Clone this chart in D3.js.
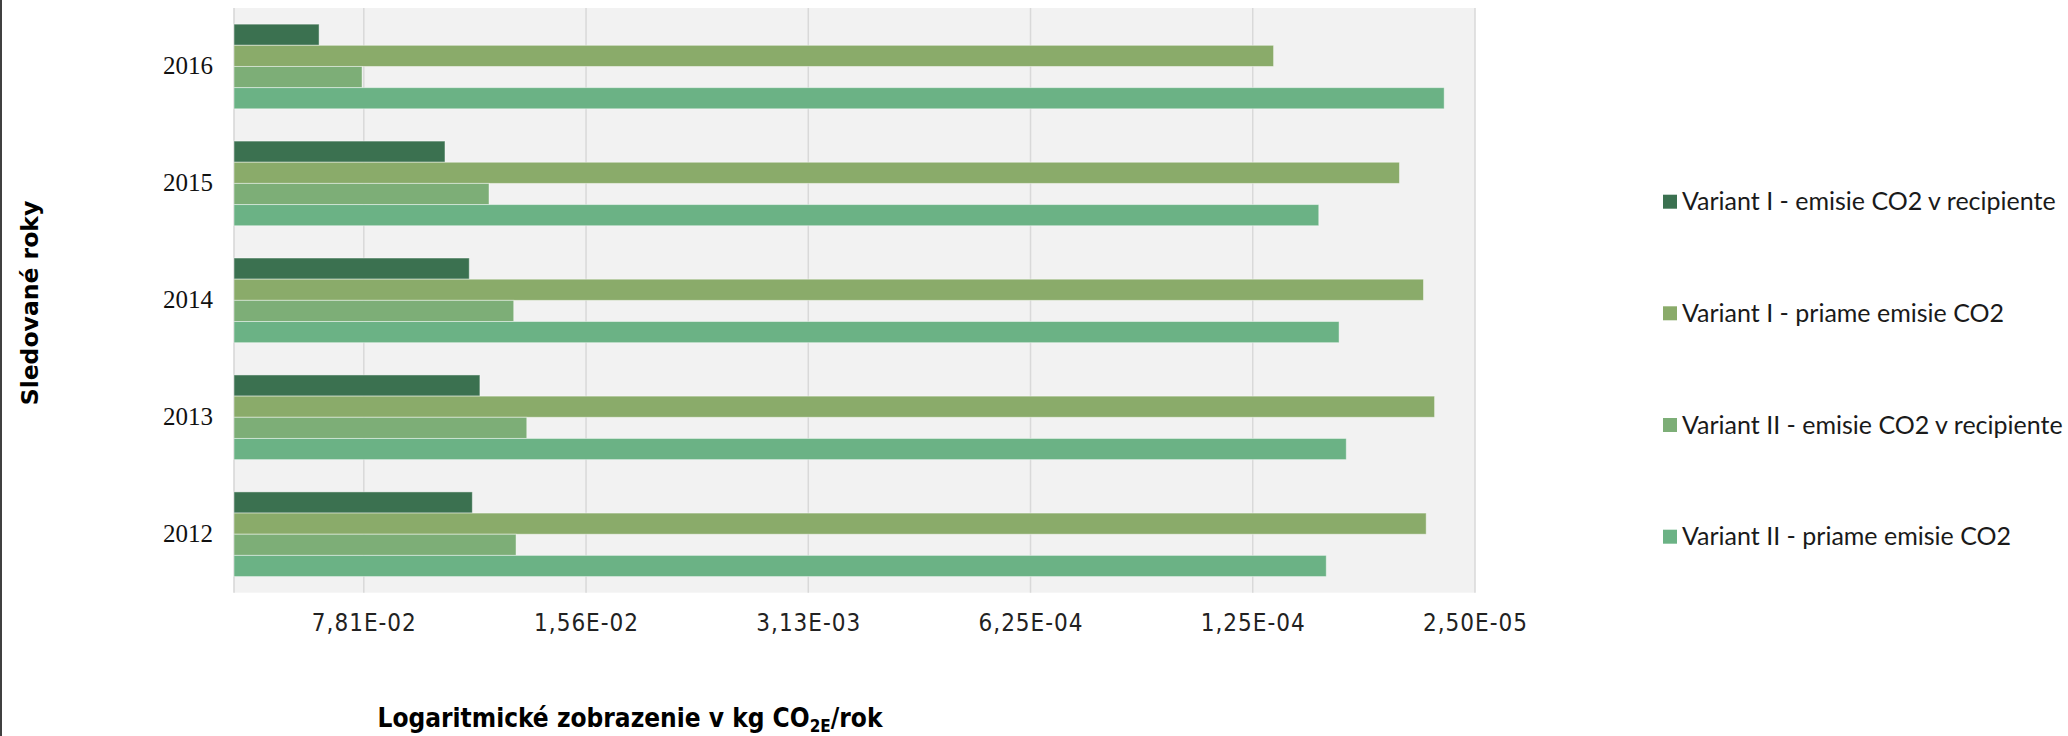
<!DOCTYPE html>
<html>
<head>
<meta charset="utf-8">
<script src="https://cdn.jsdelivr.net/npm/d3@7"></script>
<style>
  html, body { margin: 0; padding: 0; background: #ffffff; }
  svg { display: block; }
</style>
</head>
<body>
<svg id="chart" width="2068" height="736"></svg>
<script>
// Years shown on the category axis, top to bottom
const years = ["2016", "2015", "2014", "2013", "2012"];

// Series names (legend order = order inside each year group)
const seriesNames = [
  "Variant I - emisie CO2 v recipiente",
  "Variant I - priame emisie CO2",
  "Variant II - emisie CO2 v recipiente",
  "Variant II - priame emisie CO2"
];

// Emissions in kg CO2e per year, one value per year (2016 ... 2012)
const variant1Recipient = [0.108, 0.0434, 0.0364, 0.0337, 0.0356];
const variant1Direct    = [1.075e-4, 4.32e-5, 3.63e-5, 3.35e-5, 3.56e-5];
const variant2Recipient = [0.0791, 0.03155, 0.02638, 0.0240, 0.02594];
const variant2Direct    = [3.125e-5, 7.75e-5, 6.69e-5, 6.35e-5, 7.34e-5];

// Logarithmic axis (base 5), ticks and their labels
const axisMax = 0.2;
const axisMin = 2.5e-5;
const tickValues = [0.078125, 0.015625, 0.003125, 0.000625, 0.000125, 0.000025];
const tickLabels = ["7,81E-02", "1,56E-02", "3,13E-03", "6,25E-04", "1,25E-04", "2,50E-05"];

const seriesValues = [variant1Recipient, variant1Direct, variant2Recipient, variant2Direct];
const colors = ["#3b7150", "#8aab6a", "#7dae77", "#6bb285"];

const svg = d3.select("#chart");

const plot = { left: 234, right: 1475, top: 8, bottom: 592.7 };

// Reversed log scale: large values on the left, bars grow toward small values
const x = d3.scaleLog().base(5)
  .domain([axisMax, axisMin])
  .range([plot.left, plot.right]);

const y = d3.scaleBand()
  .domain(years)
  .range([plot.top, plot.bottom])
  .paddingInner(0.276)
  .paddingOuter(0.138);

const ySeries = d3.scaleBand()
  .domain(d3.range(seriesNames.length))
  .range([0, y.bandwidth()]);

// Plot background
svg.append("rect")
  .attr("x", plot.left).attr("y", plot.top)
  .attr("width", plot.right - plot.left)
  .attr("height", plot.bottom - plot.top)
  .attr("fill", "#f2f2f2");

// Vertical gridlines
svg.append("g")
  .selectAll("line")
  .data(tickValues)
  .join("line")
  .attr("x1", d => x(d)).attr("x2", d => x(d))
  .attr("y1", plot.top).attr("y2", plot.bottom)
  .attr("stroke", "#d9d9d9")
  .attr("stroke-width", 1.5);

// Category axis line on the left edge of the plot
svg.append("line")
  .attr("x1", plot.left).attr("x2", plot.left)
  .attr("y1", plot.top).attr("y2", plot.bottom)
  .attr("stroke", "#d6d6d6")
  .attr("stroke-width", 1.5);

// Bars
const rows = [];
years.forEach((yr, i) => {
  seriesValues.forEach((vals, s) => {
    rows.push({ year: yr, series: s, value: vals[i] });
  });
});

svg.append("g")
  .selectAll("rect")
  .data(rows)
  .join("rect")
  .attr("x", x(axisMax))
  .attr("y", d => y(d.year) + ySeries(d.series))
  .attr("width", d => x(d.value) - x(axisMax))
  .attr("height", ySeries.bandwidth())
  .attr("fill", d => colors[d.series])
  .attr("stroke", "rgba(255,255,255,0.45)")
  .attr("stroke-width", 1);

// Category labels (years)
const yAxis = svg.append("g")
  .attr("transform", `translate(${plot.left},0)`)
  .call(d3.axisLeft(y).tickSize(0).tickPadding(21));
yAxis.select(".domain").remove();
yAxis.selectAll("text")
  .attr("font-family", "'Liberation Serif', 'Times New Roman', serif")
  .attr("font-size", 25)
  .attr("fill", "#111111");

// Value axis labels
const xAxis = svg.append("g")
  .attr("transform", `translate(0,${plot.bottom})`)
  .call(d3.axisBottom(x)
    .tickValues(tickValues)
    .tickFormat((d, i) => tickLabels[i])
    .tickSize(0)
    .tickPadding(21));
xAxis.select(".domain").remove();
xAxis.selectAll("text")
  .attr("font-family", "'Liberation Sans Narrow', 'DejaVu Sans Condensed', 'Roboto', sans-serif")
  .attr("font-size", 24)
  .attr("letter-spacing", 1)
  .attr("fill", "#222222");

// Axis titles
const xTitle = svg.append("text")
  .attr("x", 630)
  .attr("y", 726.5)
  .attr("text-anchor", "middle")
  .attr("font-family", "'Liberation Sans Narrow', 'DejaVu Sans Condensed', sans-serif")
  .attr("font-weight", "bold")
  .attr("font-size", 26)
  .attr("fill", "#000000");
xTitle.append("tspan").text("Logaritmické zobrazenie v kg CO");
xTitle.append("tspan").attr("font-size", 17).attr("dy", 5).text("2E");
xTitle.append("tspan").attr("dy", -5).text("/rok");

svg.append("text")
  .attr("transform", "translate(38,303) rotate(-90)")
  .attr("text-anchor", "middle")
  .attr("font-family", "'DejaVu Sans', sans-serif")
  .attr("font-weight", "bold")
  .attr("font-size", 23.5)
  .attr("fill", "#000000")
  .text("Sledované roky");

// Legend
const legendY = [201.7, 313.3, 425, 536.7];
const legend = svg.append("g")
  .selectAll("g")
  .data(seriesNames)
  .join("g")
  .attr("transform", (d, i) => `translate(1663,${legendY[i]})`);
legend.append("rect")
  .attr("x", 0).attr("y", -7)
  .attr("width", 14).attr("height", 14)
  .attr("fill", (d, i) => colors[i]);
legend.append("text")
  .attr("x", 19).attr("y", 0)
  .attr("dy", "0.35em")
  .attr("font-family", "Lato, 'Open Sans', sans-serif")
  .attr("font-size", 25)
  .attr("fill", "#1a1a1a")
  .text(d => d);

// Left border of the chart frame
svg.append("line")
  .attr("x1", 1).attr("x2", 1)
  .attr("y1", 0).attr("y2", 736)
  .attr("stroke", "#000000")
  .attr("stroke-width", 1.5);
</script>
</body>
</html>
